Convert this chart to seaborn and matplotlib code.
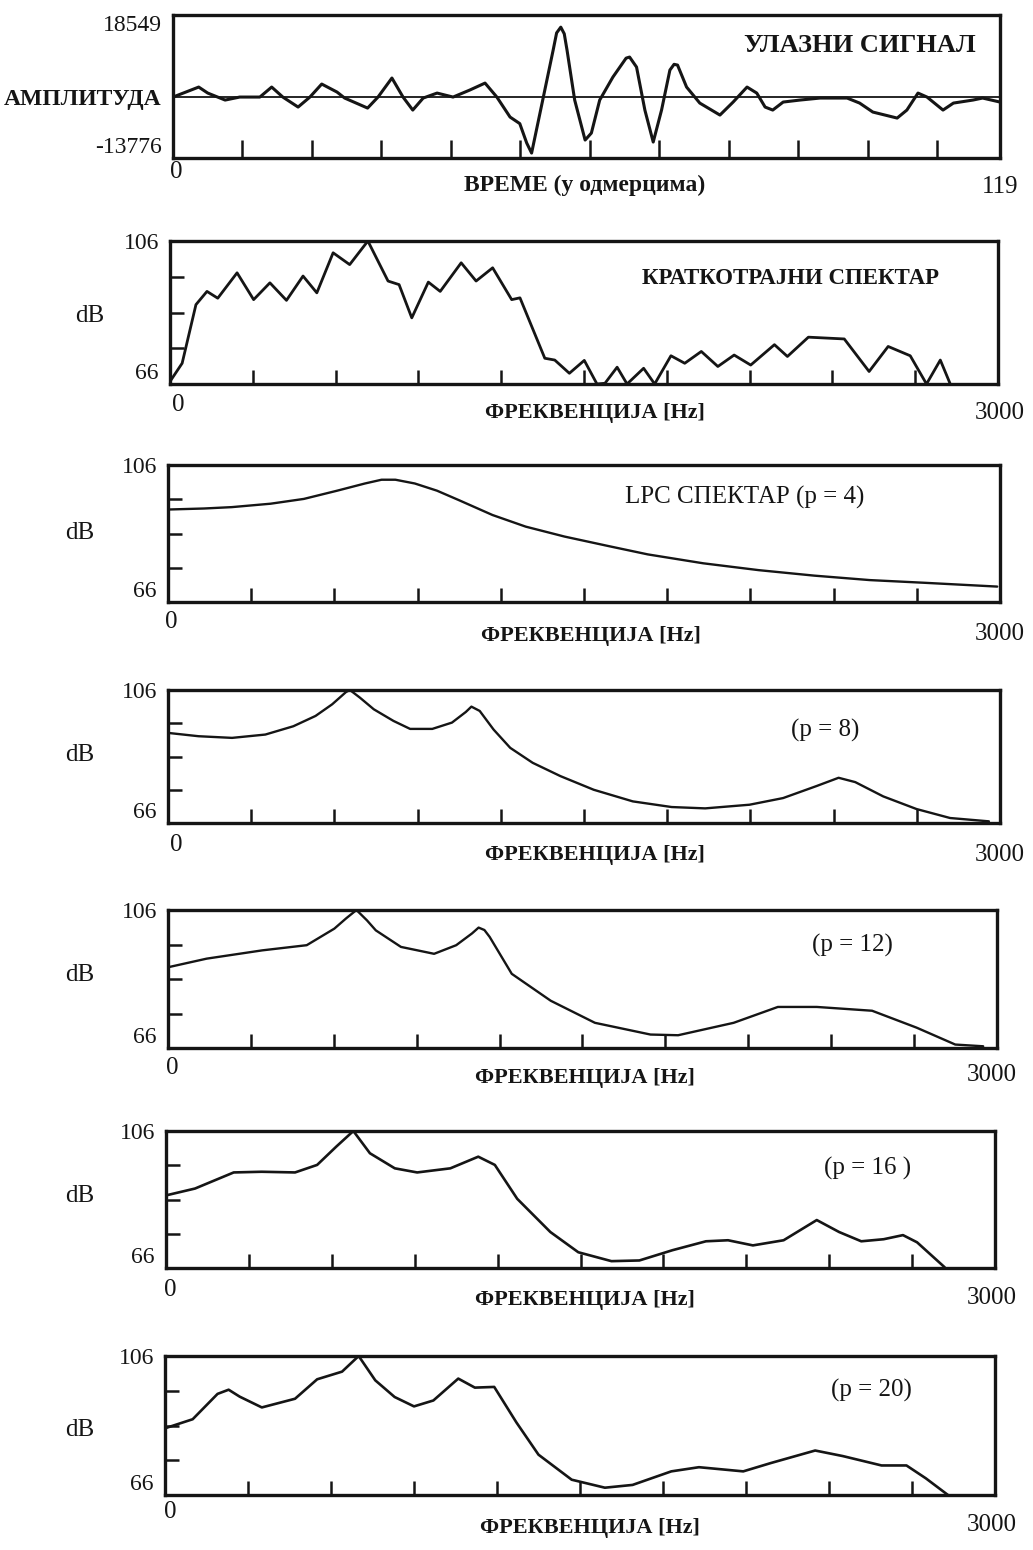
import seaborn as sns
import matplotlib.pyplot as plt

sns.set_theme(style="white")
plt.rcParams["font.family"] = ["Liberation Serif", "DejaVu Serif"]

W, H = 1033, 1550
INK = "#151515"

# input signal (samples 0..119)
sig_t = [0, 3.7, 5, 7.5, 9.6, 12.5, 14.2, 15.8, 18, 19.7, 21.4, 23.6, 24.7, 28, 29.5,
         31.5, 33.1, 34.5, 36, 38, 40.3, 42.7, 44.9, 46.6, 48.5, 49.9, 50.9, 51.6, 53.2,
         54.7, 55.2, 55.8, 56.3, 56.7, 57.8, 59.3, 60.2, 61.4, 63.3, 65.2, 65.7, 66.7, 67.9,
         69.1, 70.3, 71.5, 72.1, 72.6, 73.9, 75.8, 78.7, 80.6, 82.6, 84, 85.2, 86.3, 87.8,
         90.2, 93.1, 97, 98.8, 100.7, 104.2, 105.6, 107.2, 108.5, 110.8, 112.3, 115.1,
         116.5, 119]
sig_a = [0, 2260, 900, -680, 0, 0, 2260, 0, -2260, 0, 2940, 1130, -226, -2490, 0,
         4300, 0, -2940, -226, 900, 0, 1580, 3160, 0, -4520, -6000, -10400, -12660, -680,
         10600, 14500, 15800, 14300, 10600, -680, -9720, -8140, -680, 4520, 8800, 9040, 6780, -2940,
         -10170, -2940, 6100, 7400, 7230, 2260, -1360, -4070, -1130, 2260, 900, -2260, -2940, -1130,
         -680, -226, -226, -1360, -3390, -4750, -2940, 900, 0, -2940, -1360, -680,
         -226, -1130]

# short-time spectrum
st_f = [0, 44, 94, 134, 173, 243, 303, 362, 422, 482, 532, 591, 651, 717, 790, 830, 876,
        936, 979, 1055, 1109, 1169, 1238, 1268, 1358, 1394, 1447, 1501, 1547, 1576, 1620,
        1656, 1716, 1756, 1815, 1865, 1925, 1985, 2044, 2104, 2190, 2237, 2313, 2443, 2533,
        2602, 2682, 2741, 2791, 2827]
st_db = [66.7, 71.8, 88.2, 91.9, 90, 97.1, 89.6, 94.3, 89.4, 96.2, 91.5, 102.7, 99.4, 106,
         94.8, 93.8, 84.5, 94.5, 91.9, 99.9, 94.8, 98.5, 89.6, 90.1, 73.2, 72.7, 69, 72.6, 66,
         66.2, 70.7, 66, 70.4, 66, 73.9, 71.8, 75.1, 70.9, 74.1, 71.3, 77, 73.7, 79.1, 78.6,
         69.5, 76.5, 73.9, 66, 72.7, 66]

# LPC spectra
p4_f = [0, 130, 230, 370, 490, 610, 710, 770, 820, 890, 970, 1050, 1170, 1290, 1430, 1590,
        1730, 1930, 2130, 2330, 2530, 2730, 2990]
p4_db = [93.0, 93.3, 93.7, 94.7, 96.1, 98.5, 100.6, 101.7, 101.7, 100.6, 98.5, 95.7, 91.4,
         88.0, 85.1, 82.3, 79.9, 77.3, 75.3, 73.7, 72.4, 71.6, 70.5]

p8_f = [0, 110, 231, 351, 452, 532, 592, 642, 656, 692, 742, 813, 873, 953, 1024, 1074,
        1094, 1124, 1174, 1234, 1315, 1415, 1535, 1676, 1816, 1937, 2097, 2218, 2338, 2418,
        2478, 2579, 2699, 2820, 2960]
p8_db = [93.1, 92.1, 91.6, 92.6, 95.1, 98.2, 101.7, 105.4, 106, 103.7, 100.2, 96.7, 94.3,
         94.3, 96.2, 99.4, 101, 99.7, 94.1, 88.6, 84.1, 80.1, 76.0, 72.5, 70.8, 70.4, 71.5,
         73.5, 77.1, 79.6, 78.3, 74, 70.2, 67.5, 66.5]

p12_f = [0, 140, 341, 502, 602, 645, 682, 720, 752, 843, 963, 1043, 1100, 1124, 1145, 1164,
         1244, 1385, 1545, 1746, 1846, 2047, 2207, 2348, 2548, 2709, 2849, 2950]
p12_db = [89.4, 91.9, 94.3, 95.8, 100.6, 103.6, 106, 103.0, 100.1, 95.3, 93.3, 95.8, 99.2,
          100.9, 100.2, 98.2, 87.5, 79.7, 73.3, 69.9, 69.7, 73.3, 77.9, 77.9, 76.8, 71.9,
          67, 66.5]

p16_f = [0, 105, 245, 346, 467, 547, 617, 678, 738, 828, 909, 1029, 1130, 1190, 1271, 1391,
         1492, 1612, 1713, 1833, 1954, 2034, 2124, 2235, 2355, 2436, 2516, 2597, 2667, 2718, 2818]
p16_db = [87.2, 89.2, 93.9, 94.1, 93.9, 96.1, 101.5, 106, 99.5, 95.1, 93.9, 95.1, 98.5, 96.1,
          86.2, 76.5, 70.6, 68, 68.2, 71.2, 73.8, 74.1, 72.6, 74.1, 80, 76.5, 73.8, 74.4, 75.6,
          73.5, 66.2]

p20_f = [0, 100, 190, 230, 270, 350, 470, 550, 640, 700, 760, 830, 900, 970, 1060, 1120,
         1190, 1270, 1350, 1470, 1590, 1690, 1830, 1930, 2090, 2190, 2350, 2450, 2590, 2680,
         2750, 2830]
p20_db = [85.2, 87.8, 95.1, 96.3, 94.3, 91.2, 93.7, 99.3, 101.5, 106, 99, 94.2, 91.5, 93.2,
          99.5, 96.9, 97.1, 86.9, 77.6, 70.4, 68.1, 68.9, 72.8, 74, 72.8, 75.2, 78.8, 77.2,
          74.5, 74.5, 70.8, 66]

fig = plt.figure(figsize=(W / 100, H / 100), dpi=100)


def panel(box):
    L, T, R, B = box
    return fig.add_axes([L / W, 1 - B / H, (R - L) / W, (B - T) / H])


def ftext(x, y, s, **kw):
    kw.setdefault("ha", "center")
    kw.setdefault("va", "center")
    kw.setdefault("color", INK)
    fig.text(x / W, 1 - y / H, s, **kw)


def frame(ax, xmax, xminor, ylim, yticks, ylabels, yminor=None):
    ax.set_xlim(0, xmax)
    ax.set_ylim(*ylim)
    for s in ax.spines.values():
        s.set_linewidth(2.4)
        s.set_color(INK)
    ax.set_xticks([])
    ax.set_xticks(xminor, minor=True)
    ax.set_yticks(yticks, ylabels)
    if yminor is not None:
        ax.set_yticks(yminor, minor=True)
    ax.tick_params(which="minor", direction="in", length=10, width=1.8, color=INK,
                   bottom=True, left=True)
    ax.tick_params(axis="y", which="major", length=0, pad=8, labelsize=17, labelcolor=INK)
    ax.set_xlabel("")
    ax.set_ylabel("")
    labs = ax.get_yticklabels()
    labs[0].set_va("bottom")


# --- input signal ---
ax = panel((173, 15, 1000, 158))
ax.axhline(0, color=INK, lw=1.3)
sns.lineplot(x=sig_t, y=sig_a, ax=ax, color=INK, lw=2.2, estimator=None)
frame(ax, 119, range(10, 120, 10), (-13776, 18549), [-13776, 0, 18549],
      ["-13776", "АМПЛИТУДА", "18549"])
ax.tick_params(axis="x", which="minor", length=13)
ylabs = ax.get_yticklabels()
ylabs[1].set_fontweight("bold")
ylabs[1].set_fontsize(17)
ylabs[2].set_va("top")
ftext(860, 45, "УЛАЗНИ СИГНАЛ", fontsize=19, fontweight="bold")
ftext(176, 172, "0", fontsize=18)
ftext(585, 185, "ВРЕМЕ (у одмерцима)", fontsize=17, fontweight="bold")
ftext(1000, 187, "119", fontsize=18)

# --- spectra panels ---
panels = [
    ((170, 241, 998, 384), st_f, st_db, "КРАТКОТРАЈНИ СПЕКТАР", (790, 278), 2.0, "bold", 16.5,
     (90, 316), (178, 405), (595, 413), (1000, 413)),
    ((168, 465, 1000, 602), p4_f, p4_db, "LPC СПЕКТАР (p = 4)", (745, 497), 1.7, "normal", 18,
     (80, 533), (171, 622), (591, 636), (1000, 634)),
    ((168, 690, 1000, 823), p8_f, p8_db, "(p = 8)", (825, 730), 1.7, "normal", 18,
     (80, 755), (176, 845), (595, 855), (1000, 855)),
    ((168, 910, 997, 1048), p12_f, p12_db, "(p = 12)", (852, 945), 1.7, "normal", 18,
     (80, 975), (172, 1068), (585, 1078), (992, 1075)),
    ((166, 1131, 995, 1268), p16_f, p16_db, "(p = 16 )", (868, 1168), 1.9, "normal", 18,
     (80, 1196), (170, 1290), (585, 1300), (992, 1298)),
    ((165, 1356, 995, 1495), p20_f, p20_db, "(p = 20)", (871, 1390), 1.9, "normal", 18,
     (80, 1430), (170, 1512), (590, 1528), (992, 1525)),
]

for box, f, db, title, tpos, lw, tw, tsize, dbpos, zpos, xlpos, endpos in panels:
    ax = panel(box)
    sns.lineplot(x=f, y=db, ax=ax, color=INK, lw=lw, estimator=None)
    frame(ax, 3000, range(300, 3000, 300), (66, 106), [66, 106], ["66", "106"],
          yminor=[76, 86, 96])
    ftext(tpos[0], tpos[1], title, fontsize=tsize, fontweight=tw)
    ftext(dbpos[0], dbpos[1], "dB", fontsize=18)
    ftext(zpos[0], zpos[1], "0", fontsize=18)
    ftext(xlpos[0], xlpos[1], "ФРЕКВЕНЦИЈА [Hz]", fontsize=16, fontweight="bold")
    ftext(endpos[0], endpos[1], "3000", fontsize=18)

fig.savefig("out.png", dpi=100, facecolor="white")
